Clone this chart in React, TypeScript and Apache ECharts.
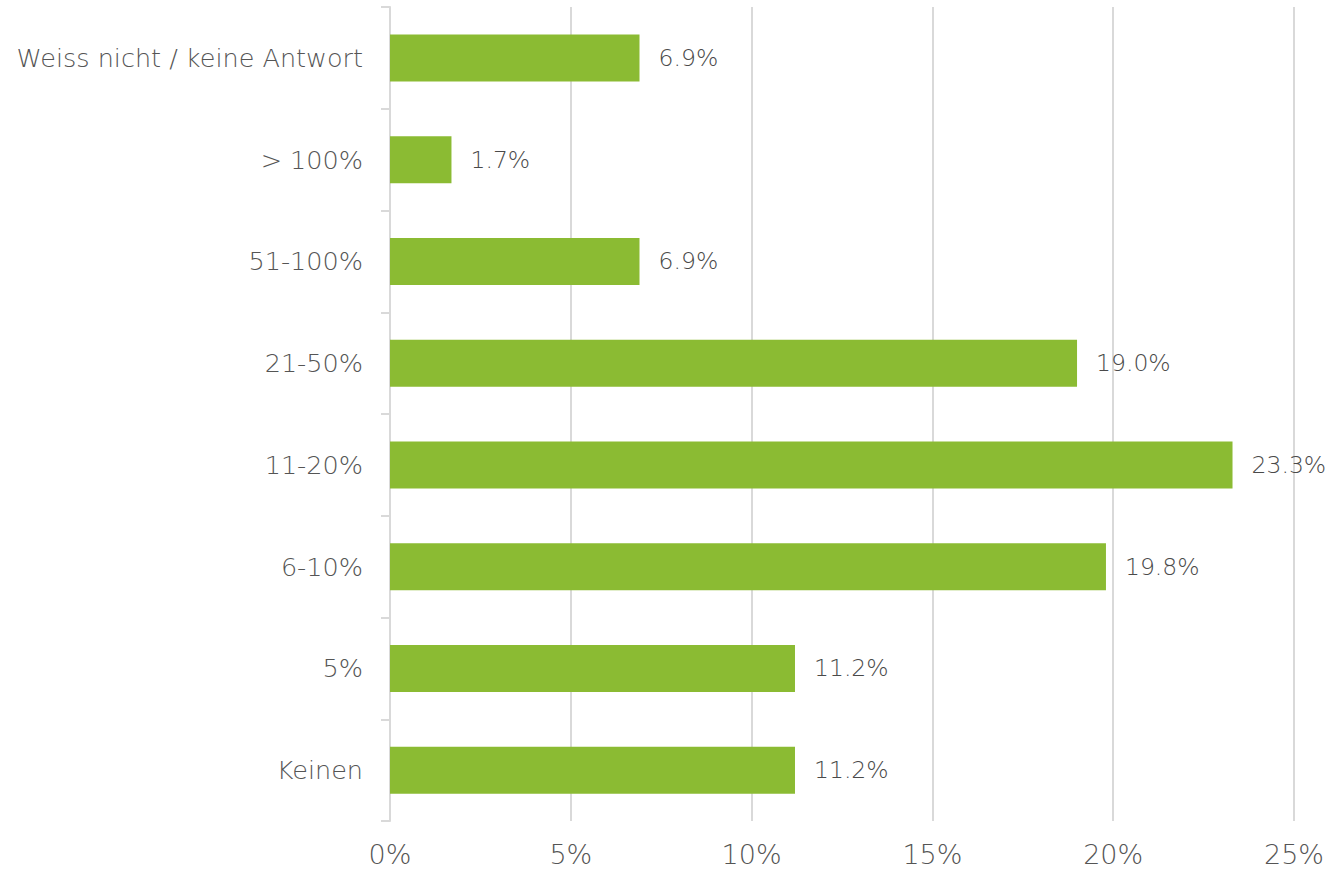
import React, { useEffect, useRef } from "react";
import * as echarts from "echarts";

const categories = ["Keinen", "5%", "6-10%", "11-20%", "21-50%", "51-100%", "> 100%", "Weiss nicht / keine Antwort"];
const values = [11.2, 11.2, 19.8, 23.3, 19.0, 6.9, 1.7, 6.9];
const xTicks = [0, 5, 10, 15, 20, 25];

const FONT = "'DejaVu Sans', 'Open Sans', sans-serif";

export default function App() {
  const ref = useRef<HTMLDivElement>(null);
  useEffect(() => {
    document.body.style.margin = "0";
    const chart = echarts.init(ref.current!, null, { renderer: "svg" });
    chart.setOption({
      animation: false,
      grid: { left: 390, right: 32, top: 7, bottom: 50, containLabel: false },
      xAxis: {
        type: "value",
        min: xTicks[0],
        max: xTicks[xTicks.length - 1],
        interval: 5,
        axisLine: { show: false },
        axisTick: { show: false },
        splitLine: { show: true, lineStyle: { color: "#d9d9d9", width: 2 } },
        axisLabel: {
          formatter: "{value}%",
          color: "#555555",
          fontSize: 27,
          fontWeight: 200,
          fontFamily: FONT,
          margin: 20,
        },
      },
      yAxis: {
        type: "category",
        data: categories,
        axisLine: { show: true, lineStyle: { color: "#d9d9d9", width: 2 } },
        axisTick: { show: true, length: 9, lineStyle: { color: "#d9d9d9", width: 2 } },
        axisLabel: {
          color: "#555555",
          fontSize: 25.5,
          fontWeight: 200,
          fontFamily: FONT,
          margin: 27,
        },
      },
      series: [
        {
          type: "bar",
          data: values,
          barWidth: 47,
          itemStyle: { color: "#8bbb33" },
          label: {
            show: true,
            position: "right",
            distance: 19,
            formatter: (p: any) => p.value.toFixed(1) + "%",
            color: "#4a4a4a",
            fontSize: 23.5,
            fontWeight: 200,
            fontFamily: FONT,
          },
        },
      ],
    });
    return () => chart.dispose();
  }, []);
  return <div ref={ref} style={{ width: 1327, height: 871 }} />;
}
